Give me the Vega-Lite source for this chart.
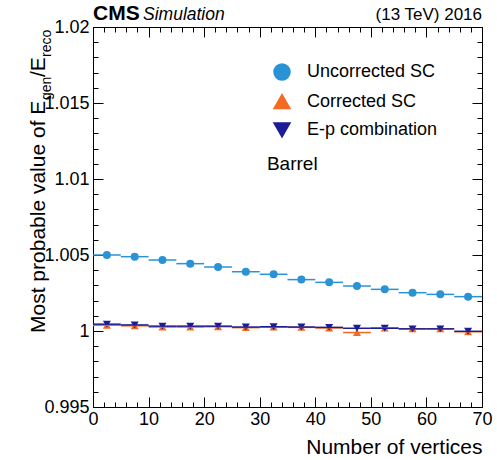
{
  "$schema": "https://vega.github.io/schema/vega-lite/v6.json",
  "width": 389,
  "height": 380,
  "autosize": {"type": "none"},
  "padding": {"left": 93, "top": 27, "right": 15, "bottom": 53},
  "background": "white",
  "config": {
    "font": "Liberation Sans",
    "view": {"stroke": "black", "strokeWidth": 1},
    "axis": {"domain": false, "tickColor": "black", "labelColor": "black", "grid": false, "labelFont": "Liberation Sans", "titleFont": "Liberation Sans", "labelFontSize": 18, "labelFlush": false, "labelOverlap": false, "labelBound": false, "tickWidth": 1},
    "legend": {"labelFont": "Liberation Sans"},
    "text": {"font": "Liberation Sans", "color": "black"}
  },
  "data": {"values": [
    {"series": "Uncorrected SC", "x0": 0, "x1": 5, "xc": 2.5, "y": 1.00500},
    {"series": "Uncorrected SC", "x0": 5, "x1": 10, "xc": 7.5, "y": 1.00489},
    {"series": "Uncorrected SC", "x0": 10, "x1": 15, "xc": 12.5, "y": 1.00467},
    {"series": "Uncorrected SC", "x0": 15, "x1": 20, "xc": 17.5, "y": 1.00443},
    {"series": "Uncorrected SC", "x0": 20, "x1": 25, "xc": 22.5, "y": 1.00421},
    {"series": "Uncorrected SC", "x0": 25, "x1": 30, "xc": 27.5, "y": 1.00390},
    {"series": "Uncorrected SC", "x0": 30, "x1": 35, "xc": 32.5, "y": 1.00373},
    {"series": "Uncorrected SC", "x0": 35, "x1": 40, "xc": 37.5, "y": 1.00338},
    {"series": "Uncorrected SC", "x0": 40, "x1": 45, "xc": 42.5, "y": 1.00320},
    {"series": "Uncorrected SC", "x0": 45, "x1": 50, "xc": 47.5, "y": 1.00296},
    {"series": "Uncorrected SC", "x0": 50, "x1": 55, "xc": 52.5, "y": 1.00274},
    {"series": "Uncorrected SC", "x0": 55, "x1": 60, "xc": 57.5, "y": 1.00252},
    {"series": "Uncorrected SC", "x0": 60, "x1": 65, "xc": 62.5, "y": 1.00241},
    {"series": "Uncorrected SC", "x0": 65, "x1": 70, "xc": 67.5, "y": 1.00226},
    {"series": "Corrected SC", "x0": 0, "x1": 5, "xc": 2.5, "y": 1.00038},
    {"series": "Corrected SC", "x0": 5, "x1": 10, "xc": 7.5, "y": 1.00034},
    {"series": "Corrected SC", "x0": 10, "x1": 15, "xc": 12.5, "y": 1.00026},
    {"series": "Corrected SC", "x0": 15, "x1": 20, "xc": 17.5, "y": 1.00026},
    {"series": "Corrected SC", "x0": 20, "x1": 25, "xc": 22.5, "y": 1.00028},
    {"series": "Corrected SC", "x0": 25, "x1": 30, "xc": 27.5, "y": 1.00022},
    {"series": "Corrected SC", "x0": 30, "x1": 35, "xc": 32.5, "y": 1.00026},
    {"series": "Corrected SC", "x0": 35, "x1": 40, "xc": 37.5, "y": 1.00024},
    {"series": "Corrected SC", "x0": 40, "x1": 45, "xc": 42.5, "y": 1.00020},
    {"series": "Corrected SC", "x0": 45, "x1": 50, "xc": 47.5, "y": 0.99990},
    {"series": "Corrected SC", "x0": 50, "x1": 55, "xc": 52.5, "y": 1.00020},
    {"series": "Corrected SC", "x0": 55, "x1": 60, "xc": 57.5, "y": 1.00015},
    {"series": "Corrected SC", "x0": 60, "x1": 65, "xc": 62.5, "y": 1.00015},
    {"series": "Corrected SC", "x0": 65, "x1": 70, "xc": 67.5, "y": 0.99995},
    {"series": "E-p combination", "x0": 0, "x1": 5, "xc": 2.5, "y": 1.00045},
    {"series": "E-p combination", "x0": 5, "x1": 10, "xc": 7.5, "y": 1.00040},
    {"series": "E-p combination", "x0": 10, "x1": 15, "xc": 12.5, "y": 1.00032},
    {"series": "E-p combination", "x0": 15, "x1": 20, "xc": 17.5, "y": 1.00032},
    {"series": "E-p combination", "x0": 20, "x1": 25, "xc": 22.5, "y": 1.00032},
    {"series": "E-p combination", "x0": 25, "x1": 30, "xc": 27.5, "y": 1.00026},
    {"series": "E-p combination", "x0": 30, "x1": 35, "xc": 32.5, "y": 1.00028},
    {"series": "E-p combination", "x0": 35, "x1": 40, "xc": 37.5, "y": 1.00026},
    {"series": "E-p combination", "x0": 40, "x1": 45, "xc": 42.5, "y": 1.00024},
    {"series": "E-p combination", "x0": 45, "x1": 50, "xc": 47.5, "y": 1.00018},
    {"series": "E-p combination", "x0": 50, "x1": 55, "xc": 52.5, "y": 1.00018},
    {"series": "E-p combination", "x0": 55, "x1": 60, "xc": 57.5, "y": 1.00014},
    {"series": "E-p combination", "x0": 60, "x1": 65, "xc": 62.5, "y": 1.00014},
    {"series": "E-p combination", "x0": 65, "x1": 70, "xc": 67.5, "y": 0.99998}
  ]},
  "resolve": {"axis": {"x": "independent", "y": "independent"}},
  "layer": [
    {
      "mark": {"type": "point", "filled": true, "opacity": 1, "size": 64},
      "encoding": {
        "x": {"field": "xc", "type": "quantitative",
          "scale": {"domain": [0, 70], "nice": false, "zero": false},
          "axis": {"orient": "top", "values": [0, 10, 20, 30, 40, 50, 60, 70], "tickSize": 10, "offset": -10, "labels": false, "title": null}},
        "y": {"field": "y", "type": "quantitative",
          "scale": {"domain": [0.995, 1.02], "nice": false, "zero": false},
          "axis": {"orient": "right", "values": [0.995, 1, 1.005, 1.01, 1.015, 1.02], "tickSize": 10, "offset": -10, "labels": false, "title": null}},
        "color": {"field": "series", "type": "nominal",
          "scale": {"domain": ["Uncorrected SC", "Corrected SC", "E-p combination"], "range": ["#2a93d5", "#f26b21", "#1c1c96"]},
          "legend": {"orient": "none", "legendX": 180, "legendY": 36, "title": null, "labelFontSize": 18, "labelColor": "black", "labelOffset": 16, "rowPadding": 8.5, "symbolSize": 256,
            "encode": {"symbols": {
              "shape": {"value": {"expr": "datum.value === 'Uncorrected SC' ? 'M-1.8,0H1.8M0,-1V1M0.55,0A0.55,0.55 0 1,1 -0.55,0A0.55,0.55 0 1,1 0.55,0Z' : datum.value === 'Corrected SC' ? 'M-1.8,0H1.8M0,-1V1M0,-0.6L0.55,0.4L-0.55,0.4Z' : 'M-1.8,0H1.8M0,-1V1M0,0.6L0.55,-0.4L-0.55,-0.4Z'"}},
              "stroke": {"value": {"expr": "scale('color', datum.value)"}},
              "fill": {"value": {"expr": "scale('color', datum.value)"}},
              "strokeWidth": {"value": 1.5},
              "size": {"value": 256},
              "opacity": {"value": 1}
            }}}},
        "shape": {"field": "series", "type": "nominal", "legend": null,
          "scale": {"domain": ["Uncorrected SC", "Corrected SC", "E-p combination"], "range": ["circle", "triangle-up", "triangle-down"]}}
      }
    },
    {
      "mark": {"type": "rule", "strokeWidth": 1.5},
      "encoding": {
        "x": {"field": "x0", "type": "quantitative",
          "axis": {"orient": "bottom", "values": [0, 10, 20, 30, 40, 50, 60, 70], "tickSize": 10, "offset": -10,
            "labelPadding": 3, "title": "Number of vertices", "titleFontSize": 21, "titleFontWeight": "normal", "titleAnchor": "end", "titlePadding": 8, "titleColor": "black"}},
        "x2": {"field": "x1"},
        "y": {"field": "y", "type": "quantitative",
          "axis": {"orient": "left", "values": [0.995, 1, 1.005, 1.01, 1.015, 1.02], "tickSize": 10, "offset": -10,
            "labelExpr": "format(datum.value, '~g')", "labelPadding": 4, "title": null}},
        "color": {"field": "series", "type": "nominal"}
      }
    },
    {
      "data": {"values": [{}]},
      "mark": {"type": "text", "fontSize": 19, "align": "left", "baseline": "alphabetic"},
      "encoding": {
        "x": {"datum": 31.3, "axis": {"orient": "bottom", "values": [0,2,4,6,8,10,12,14,16,18,20,22,24,26,28,30,32,34,36,38,40,42,44,46,48,50,52,54,56,58,60,62,64,66,68,70], "tickSize": 5, "offset": -5, "labels": false, "title": null}},
        "y": {"datum": 1.01059, "axis": {"orient": "left", "values": [0.995,0.996,0.997,0.998,0.999,1,1.001,1.002,1.003,1.004,1.005,1.006,1.007,1.008,1.009,1.01,1.011,1.012,1.013,1.014,1.015,1.016,1.017,1.018,1.019,1.02], "tickSize": 5, "offset": -5, "labels": false, "title": null}},
        "text": {"value": "Barrel"}}
    },
    {
      "data": {"values": [{}]},
      "mark": {"type": "text", "fontSize": 21, "fontWeight": "bold", "align": "left", "baseline": "alphabetic", "dy": -7},
      "encoding": {
        "x": {"datum": 0, "axis": {"orient": "top", "values": [0,2,4,6,8,10,12,14,16,18,20,22,24,26,28,30,32,34,36,38,40,42,44,46,48,50,52,54,56,58,60,62,64,66,68,70], "tickSize": 5, "offset": -5, "labels": false, "title": null}},
        "y": {"datum": 1.02, "axis": {"orient": "right", "values": [0.995,0.996,0.997,0.998,0.999,1,1.001,1.002,1.003,1.004,1.005,1.006,1.007,1.008,1.009,1.01,1.011,1.012,1.013,1.014,1.015,1.016,1.017,1.018,1.019,1.02], "tickSize": 5, "offset": -5, "labels": false, "title": null}},
        "text": {"value": "CMS"}}
    },
    {
      "data": {"values": [{}]},
      "mark": {"type": "text", "fontSize": 17.5, "fontStyle": "italic", "align": "left", "baseline": "alphabetic", "dy": -7},
      "encoding": {"x": {"datum": 9.0, "axis": null}, "y": {"datum": 1.02, "axis": null}, "text": {"value": "Simulation"}}
    },
    {
      "data": {"values": [{}]},
      "mark": {"type": "text", "fontSize": 17, "align": "right", "baseline": "alphabetic", "dy": -7},
      "encoding": {"x": {"datum": 70, "axis": null}, "y": {"datum": 1.02, "axis": null}, "text": {"value": "(13 TeV) 2016"}}
    },
    {
      "data": {"values": [{}]},
      "mark": {"type": "text", "fontSize": 21, "angle": 270, "align": "left", "baseline": "alphabetic"},
      "encoding": {"x": {"datum": -8.64, "axis": null}, "y": {"datum": 0.99987, "axis": null}, "text": {"value": "Most probable value of E"}}
    },
    {
      "data": {"values": [{}]},
      "mark": {"type": "text", "fontSize": 14, "angle": 270, "align": "left", "baseline": "alphabetic"},
      "encoding": {"x": {"datum": -7.56, "axis": null}, "y": {"datum": 1.0152, "axis": null}, "text": {"value": "gen"}}
    },
    {
      "data": {"values": [{}]},
      "mark": {"type": "text", "fontSize": 21, "angle": 270, "align": "left", "baseline": "alphabetic"},
      "encoding": {"x": {"datum": -8.64, "axis": null}, "y": {"datum": 1.01671, "axis": null}, "text": {"value": "/E"}}
    },
    {
      "data": {"values": [{}]},
      "mark": {"type": "text", "fontSize": 14, "angle": 270, "align": "left", "baseline": "alphabetic"},
      "encoding": {"x": {"datum": -7.56, "axis": null}, "y": {"datum": 1.01803, "axis": null}, "text": {"value": "reco"}}
    }
  ]
}
